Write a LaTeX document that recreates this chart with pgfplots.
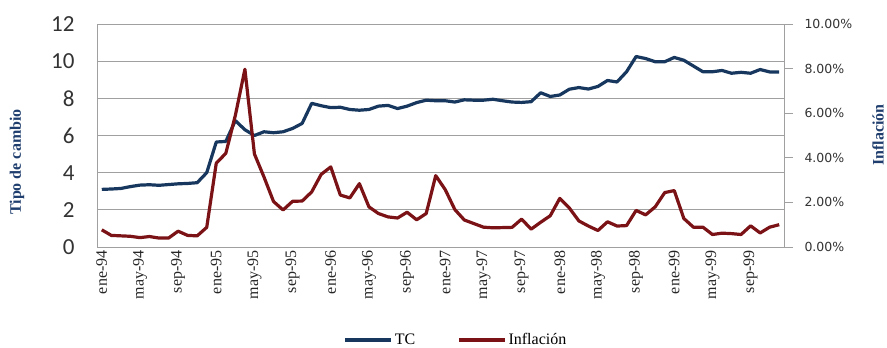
\documentclass[border=0pt]{standalone}
\usepackage{fontspec}
\setmainfont{Liberation Serif}
\newfontfamily\calfont{Carlito}
\newfontfamily\dvs{DejaVu Sans}
\usepackage{pgfplots}
\pgfplotsset{compat=1.18}
\usepackage{pgfplotstable}
\definecolor{tccol}{RGB}{23,55,94}
\definecolor{infcol}{RGB}{122,18,22}
\definecolor{gridc}{RGB}{160,160,160}
\definecolor{titc}{RGB}{31,62,110}

\pgfplotstableread{
m tc inf
0 3.10 0.77
1 3.12 0.52
2 3.15 0.50
3 3.25 0.48
4 3.33 0.42
5 3.35 0.47
6 3.32 0.40
7 3.36 0.40
8 3.40 0.71
9 3.42 0.52
10 3.46 0.50
11 4.00 0.88
12 5.65 3.76
13 5.68 4.20
14 6.80 5.90
15 6.31 7.97
16 6.00 4.17
17 6.20 3.14
18 6.15 2.04
19 6.20 1.66
20 6.38 2.05
21 6.65 2.06
22 7.73 2.47
23 7.60 3.26
24 7.50 3.59
25 7.52 2.33
26 7.40 2.20
27 7.36 2.84
28 7.40 1.80
29 7.58 1.50
30 7.62 1.35
31 7.45 1.30
32 7.58 1.56
33 7.77 1.22
34 7.90 1.50
35 7.87 3.20
36 7.87 2.57
37 7.80 1.68
38 7.92 1.21
39 7.90 1.05
40 7.90 0.89
41 7.95 0.86
42 7.87 0.87
43 7.80 0.88
44 7.78 1.25
45 7.82 0.80
46 8.30 1.11
47 8.10 1.40
48 8.18 2.18
49 8.49 1.75
50 8.58 1.17
51 8.50 0.94
52 8.64 0.74
53 8.96 1.13
54 8.88 0.94
55 9.43 0.96
56 10.25 1.64
57 10.14 1.44
58 9.97 1.80
59 9.97 2.44
60 10.20 2.53
61 10.05 1.28
62 9.74 0.89
63 9.43 0.89
64 9.43 0.56
65 9.50 0.62
66 9.35 0.60
67 9.40 0.56
68 9.35 0.95
69 9.55 0.63
70 9.42 0.89
71 9.42 1.00
}\datatable

\begin{document}
\begin{tikzpicture}
\path[use as bounding box] (0,0) rectangle (887pt,348pt);
\begin{axis}[
  at={(97pt,101pt)}, anchor=south west,
  scale only axis, width=687pt, height=223pt,
  xmin=-0.5, xmax=71.5, ymin=0, ymax=12,
  ytick={0,2,...,12},
  /pgf/number format/assume math mode=true,
  xtick={0,4,...,68},
  xticklabels={ene-94,may-94,sep-94,ene-95,may-95,sep-95,ene-96,may-96,sep-96,ene-97,may-97,sep-97,ene-98,may-98,sep-98,ene-99,may-99,sep-99},
  x tick label style={rotate=90, anchor=east, font=\fontsize{16}{18}\selectfont, text=black!85},
  y tick label style={font=\calfont\fontsize{23}{26}\selectfont, text=black!80, xshift=-19pt},
  major tick length=0pt,
  axis line style={gridc, line width=0.8pt},
  ymajorgrids, grid style={gridc, line width=0.8pt},
  every axis y label/.style={at={(-0.1164,0.381)}, rotate=90, anchor=center, font=\bfseries\fontsize{16}{18}\selectfont, text=titc},
  ylabel={Tipo de cambio},
  legend style={at={(0.5226,-0.417)}, anchor=center, draw=none, fill=none,
    font=\fontsize{16}{18}\selectfont, legend columns=2,
    /tikz/every even column/.append style={column sep=40pt}},
  legend image code/.code={\draw[#1] (0pt,0pt) -- (46pt,0pt);},
]
\addplot[tccol, line width=3.2pt, line join=round] table[x=m, y=tc] {\datatable};
\addlegendentry{TC}
\addlegendimage{infcol, line width=3.2pt}
\addlegendentry{Inflación}
\end{axis}
\begin{axis}[
  at={(97pt,101pt)}, anchor=south west,
  scale only axis, width=687pt, height=223pt,
  xmin=-0.5, xmax=71.5, ymin=0, ymax=10,
  axis x line=none,
  axis y line*=right,
  ytick={0,2,...,10},
  yticklabels={0.00\%,2.00\%,4.00\%,6.00\%,8.00\%,10.00\%},
  y tick label style={font=\dvs\fontsize{12.5}{14}\selectfont, text=black!80, xshift=8pt},
  tick align=outside, major tick length=9pt,
  tick style={gridc, line width=0.8pt},
  axis line style={gridc, line width=0.8pt},
  every axis y label/.style={at={(1.137,0.502)}, rotate=90, anchor=center, font=\bfseries\fontsize{16}{18}\selectfont, text=titc},
  ylabel={Inflación},
]
\addplot[infcol, line width=3.2pt, line join=round] table[x=m, y=inf] {\datatable};
\end{axis}
\end{tikzpicture}
\end{document}
